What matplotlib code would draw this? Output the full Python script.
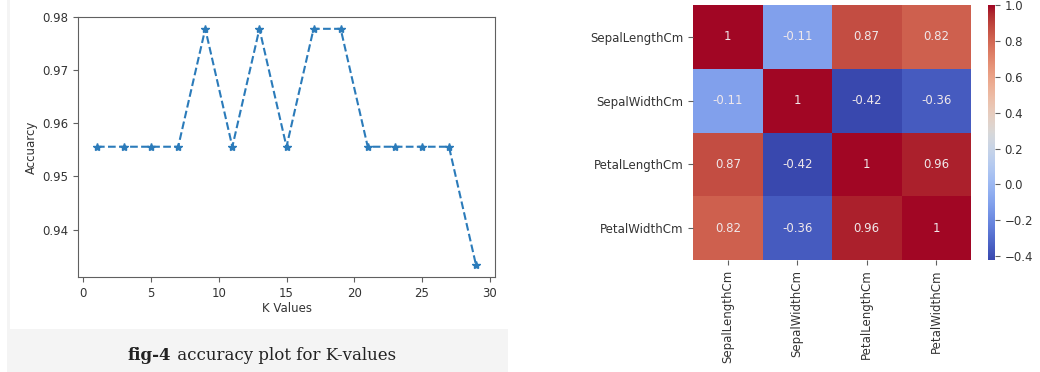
import matplotlib.pyplot as plt
import matplotlib.patches as mpatches
from matplotlib.colors import ListedColormap
import numpy as np

# knn accuracy for odd k
k_values = [1, 3, 5, 7, 9, 11, 13, 15, 17, 19, 21, 23, 25, 27, 29]
accuracy = [0.9556, 0.9556, 0.9556, 0.9556, 0.9778, 0.9556, 0.9778, 0.9556,
            0.9778, 0.9778, 0.9556, 0.9556, 0.9556, 0.9556, 0.9333]

# iris feature correlation
features = ["SepalLengthCm", "SepalWidthCm", "PetalLengthCm", "PetalWidthCm"]
corr = [[1.0, -0.109, 0.872, 0.818],
        [-0.109, 1.0, -0.421, -0.357],
        [0.872, -0.421, 1.0, 0.963],
        [0.818, -0.357, 0.963, 1.0]]
cbar_ticks = [-0.4, -0.2, 0.0, 0.2, 0.4, 0.6, 0.8, 1.0]

caption_bold = "fig-4"
caption_rest = " accuracy plot for K-values"

W, H = 1040, 372
fig = plt.figure(figsize=(W / 100, H / 100), dpi=100)
fs = 8.5
frame_col = "#606060"


def px(x0, y0, x1, y1):
    return [x0 / W, (H - y1) / H, (x1 - x0) / W, (y1 - y0) / H]


# the scanned figure looks a little washed out, so tone coolwarm down a bit
base = plt.get_cmap("coolwarm")(np.linspace(0, 1, 256))[:, :3]
lum = (base @ np.array([0.3, 0.59, 0.11]))[:, None]
muted = ListedColormap(np.clip(base * 0.88 + lum * 0.12 - 0.02, 0, 1))

# caption box
fig.add_artist(mpatches.Rectangle((7 / W, 0), 501 / W, 43 / H, transform=fig.transFigure,
                                  facecolor="#f4f4f4", edgecolor="none", zorder=0))
fig.add_artist(mpatches.Rectangle((7 / W, 43 / H), 3 / W, (H - 43) / H, transform=fig.transFigure,
                                  facecolor="#f4f4f4", edgecolor="none", zorder=0))

# line plot
ax = fig.add_axes(px(78, 17, 495, 277))
ax.plot(k_values, accuracy, linestyle="--", marker="*", color="#2b7bba", markersize=6)
ax.set_xlabel("K Values", fontsize=fs, color="#333333", labelpad=2)
ax.set_ylabel("Accuarcy", fontsize=fs, color="#333333", labelpad=3)
ax.set_xticks([0, 5, 10, 15, 20, 25, 30])
ax.set_yticks([0.94, 0.95, 0.96, 0.97, 0.98])
ax.tick_params(labelsize=fs, colors=frame_col, labelcolor="#333333")
for s in ax.spines.values():
    s.set_color(frame_col)

# caption text
t1 = fig.text(128 / W, (H - 355) / H, caption_bold, fontsize=12, fontweight="bold",
              family="DejaVu Serif", va="center", color="#222222")
ax.annotate(caption_rest, xy=(1, 0.5), xycoords=t1, va="center", ha="left",
            fontsize=12, family="DejaVu Serif", color="#222222", annotation_clip=False)

# heatmap
hax = fig.add_axes(px(693, 5, 971, 260))
data = np.array(corr)
vmin, vmax = data.min(), data.max()
mesh = hax.pcolormesh(data, cmap=muted, vmin=vmin, vmax=vmax)
hax.set_xlim(0, len(features))
hax.set_ylim(len(features), 0)
for i in range(len(features)):
    for j in range(len(features)):
        hax.text(j + 0.5, i + 0.5, f"{data[i, j]:.2g}", ha="center", va="center",
                 color="#f0e8ea", fontsize=fs)
hax.set_xticks(np.arange(len(features)) + 0.5)
hax.set_yticks(np.arange(len(features)) + 0.5)
hax.set_xticklabels(features, rotation=90)
hax.set_yticklabels(features)
hax.tick_params(labelsize=fs, colors=frame_col, labelcolor="#333333")
for s in hax.spines.values():
    s.set_visible(False)

cax = fig.add_axes(px(988, 5, 995, 260))
cb = fig.colorbar(mesh, cax=cax, ticks=cbar_ticks)
cb.outline.set_visible(False)
cax.tick_params(labelsize=fs, colors=frame_col, labelcolor="#333333")

fig.savefig("out.png", dpi=100)
